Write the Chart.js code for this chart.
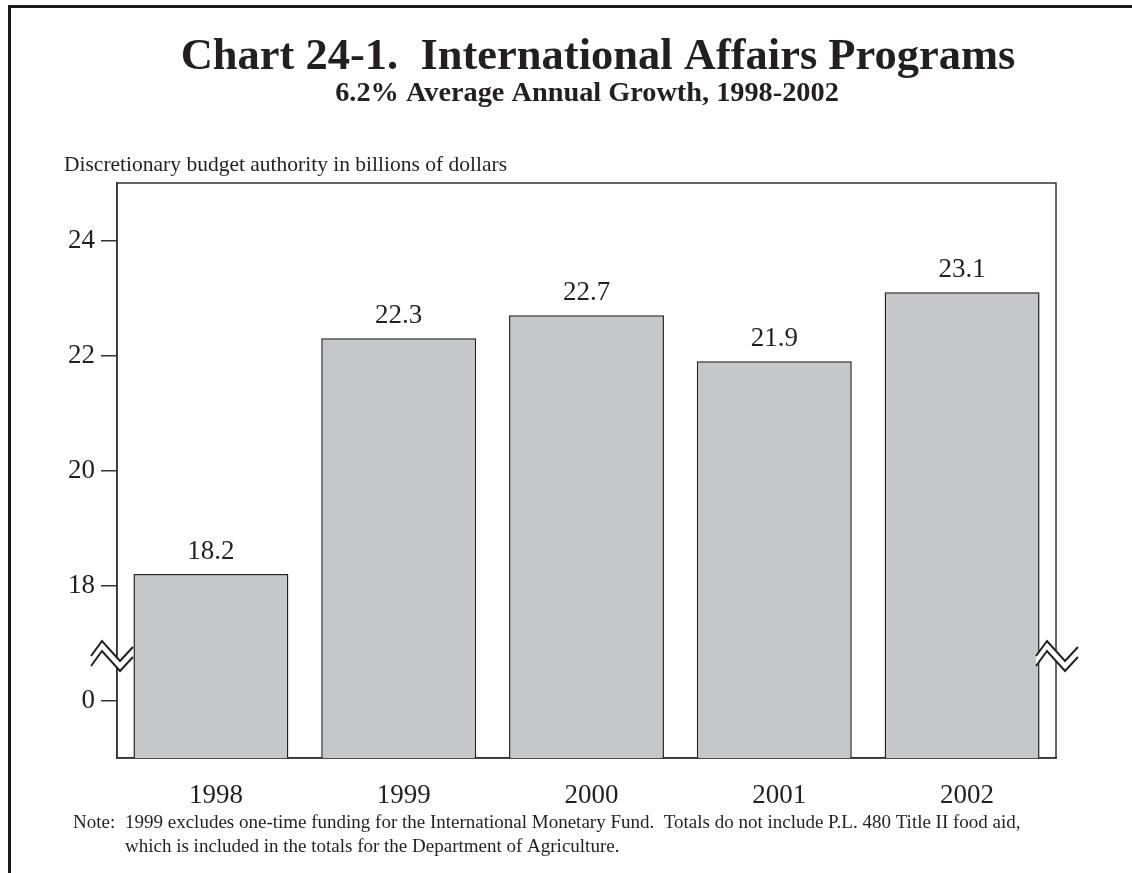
<!DOCTYPE html>
<html>
<head>
<meta charset="utf-8">
<title>Chart 24-1. International Affairs Programs</title>
<script src="https://cdn.jsdelivr.net/npm/chart.js@4.4.0/dist/chart.umd.min.js"></script>
<style>
  html, body { margin: 0; padding: 0; background: #fff; }
  canvas { display: block; }
</style>
</head>
<body>
<canvas id="grafico" width="1132" height="873"></canvas>
<script>
// Data
const years = ['1998', '1999', '2000', '2001', '2002'];
const budgetAuthority = [18.2, 22.3, 22.7, 21.9, 23.1];

// Broken axis: the position 16 carries the label "0"
const tickValues = [16, 18, 20, 22, 24];
const tickLabels = ['0', '18', '20', '22', '24'];
const axisMin = 15;
const axisMax = 25;
const breakAt = 17;

const titleText = 'Chart 24-1.  International Affairs Programs';
const subtitleText = '6.2% Average Annual Growth, 1998-2002';
const unitsText = 'Discretionary budget authority in billions of dollars';
const noteLabel = 'Note:';
const noteLines = [
    '1999 excludes one-time funding for the International Monetary Fund.  Totals do not include P.L. 480 Title II food aid,',
    'which is included in the totals for the Department of Agriculture.'
];

const FONT = '"Liberation Serif", "Times New Roman", Times, serif';
const INK = '#231f20';

// Frame, titles and note
const decorPlugin = {
    id: 'decor',
    beforeDraw(chart) {
        const ctx = chart.ctx;
        ctx.save();
        ctx.fillStyle = '#1a1a1a';
        ctx.fillRect(8, 5, 3, chart.height);
        ctx.fillRect(8, 5, chart.width, 3);

        ctx.fillStyle = INK;
        ctx.textBaseline = 'alphabetic';
        ctx.textAlign = 'center';
        ctx.font = 'bold 44.5px ' + FONT;
        ctx.fillText(titleText, 598, 69);
        ctx.font = 'bold 28.3px ' + FONT;
        ctx.fillText(subtitleText, 587, 101);

        ctx.textAlign = 'left';
        ctx.font = '21.5px ' + FONT;
        ctx.fillText(unitsText, 64, 171);

        ctx.font = '19px ' + FONT;
        ctx.fillText(noteLabel, 73, 828);
        ctx.fillText(noteLines[0], 125, 828);
        ctx.fillText(noteLines[1], 125, 852);
        ctx.restore();
    },
    beforeDatasetsDraw(chart) {
        // box around the plot area
        const { ctx, chartArea } = chart;
        ctx.save();
        ctx.strokeStyle = '#333';
        ctx.lineWidth = 1.5;
        ctx.strokeRect(chartArea.left, chartArea.top, chartArea.right - chartArea.left, chartArea.bottom - chartArea.top);
        ctx.restore();
    },
    afterDatasetsDraw(chart) {
        const { ctx, chartArea } = chart;
        const yRef = chart.scales.y.getPixelForValue(breakAt);
        drawBreak(ctx, chartArea.left, yRef, 0);
        drawBreak(ctx, chartArea.right, yRef, 6);

        // value labels above the bars
        const meta = chart.getDatasetMeta(0);
        ctx.save();
        ctx.fillStyle = INK;
        ctx.font = '27px ' + FONT;
        ctx.textAlign = 'center';
        ctx.textBaseline = 'alphabetic';
        meta.data.forEach((bar, i) => {
            ctx.fillText(budgetAuthority[i].toFixed(1), bar.x, bar.y - 15);
        });
        ctx.restore();
    }
};

// zigzag axis-break mark
function drawBreak(ctx, x0, yRef, shift) {
    const upper = [[-26, 13], [-15, -2], [3, 18], [16, 4]].map(p => [x0 + p[0] + shift, yRef + p[1]]);
    const lower = upper.map(p => [p[0], p[1] + 10]);
    ctx.save();
    ctx.beginPath();
    upper.forEach((p, i) => i ? ctx.lineTo(p[0], p[1]) : ctx.moveTo(p[0], p[1]));
    lower.slice().reverse().forEach(p => ctx.lineTo(p[0], p[1]));
    ctx.closePath();
    ctx.fillStyle = '#fff';
    ctx.fill();
    ctx.strokeStyle = INK;
    ctx.lineWidth = 2;
    [upper, lower].forEach(line => {
        ctx.beginPath();
        line.forEach((p, i) => i ? ctx.lineTo(p[0], p[1]) : ctx.moveTo(p[0], p[1]));
        ctx.stroke();
    });
    ctx.restore();
}

function desenharGrafico() {
    const ctx = document.getElementById('grafico').getContext('2d');
    new Chart(ctx, {
        type: 'bar',
        data: {
            labels: years,
            datasets: [{
                data: budgetAuthority,
                base: axisMin,
                backgroundColor: '#c6c7c9',
                borderColor: INK,
                borderWidth: 1.5,
                categoryPercentage: 1,
                barPercentage: 0.825
            }]
        },
        options: {
            responsive: false,
            animation: false,
            layout: { padding: { left: 0, right: 76, top: 183, bottom: 0 } },
            plugins: {
                legend: { display: false },
                tooltip: { enabled: false },
                title: { display: false }
            },
            scales: {
                x: {
                    grid: { display: false, drawTicks: false },
                    border: { display: true, color: '#333', width: 1.5 },
                    ticks: {
                        font: { family: FONT, size: 27 },
                        color: INK,
                        padding: 22,
                        labelOffset: 5
                    },
                    afterFit: scale => { scale.height = 115; }
                },
                y: {
                    min: axisMin,
                    max: axisMax,
                    afterBuildTicks: scale => {
                        scale.ticks = tickValues.map(v => ({ value: v }));
                    },
                    grid: { drawOnChartArea: false, tickLength: 16, color: '#333', lineWidth: 1.5 },
                    border: { color: '#333', width: 1.5 },
                    ticks: {
                        font: { family: FONT, size: 27 },
                        color: INK,
                        padding: 6,
                        callback: value => tickLabels[tickValues.indexOf(value)]
                    },
                    afterFit: scale => { scale.width = 117; }
                }
            }
        },
        plugins: [decorPlugin]
    });
}

document.addEventListener('DOMContentLoaded', desenharGrafico);
</script>
</body>
</html>
